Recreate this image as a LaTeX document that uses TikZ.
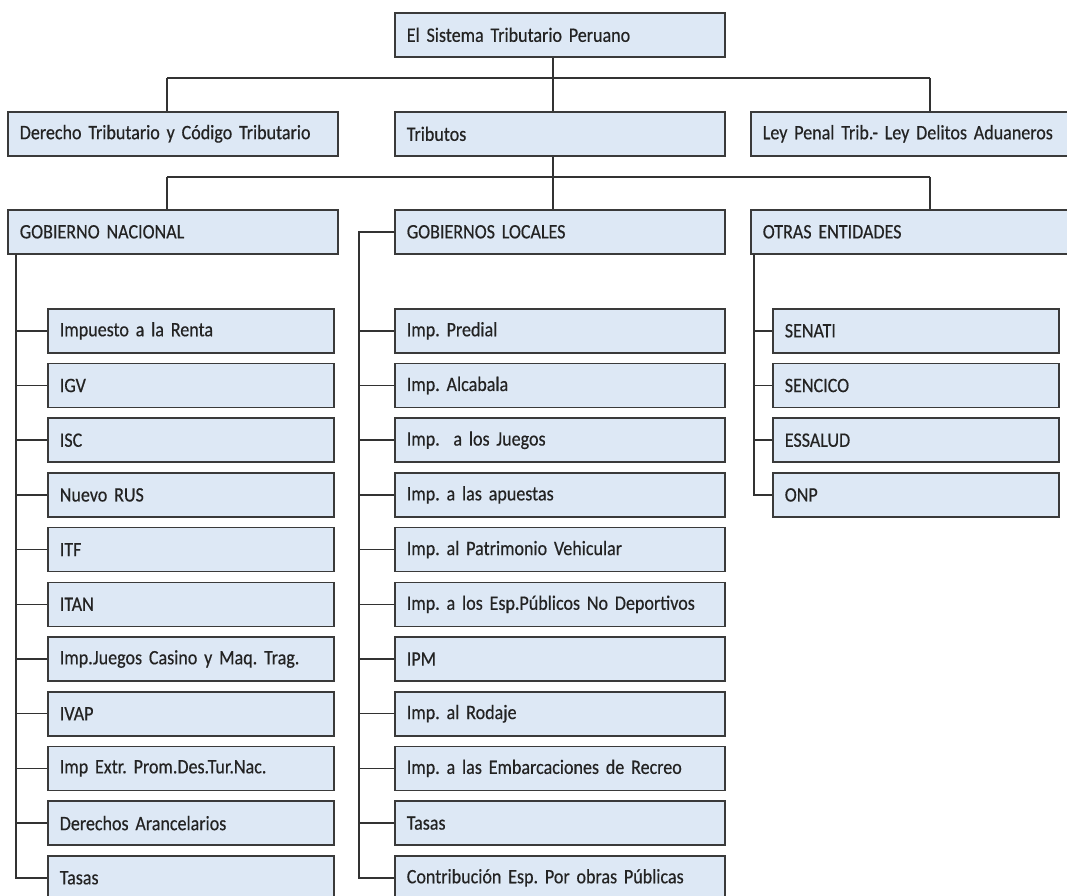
\documentclass[tikz,border=0pt]{standalone}
\usepackage{fontspec}
\setmainfont{Carlito}[FakeStretch=0.88,WordSpace=0.72,FakeBold=0.4]
\definecolor{boxfill}{RGB}{221,232,245}
\definecolor{boxline}{RGB}{58,58,58}
\definecolor{txt}{RGB}{35,35,35}
\definecolor{conn}{RGB}{50,50,50}
\tikzset{
  bx/.style={draw=boxline, fill=boxfill, line width=1.6pt, inner xsep=12pt, inner ysep=0pt,
    minimum height=44pt, anchor=north west, align=left, text=txt,
    font=\frenchspacing\fontsize{20.5}{22}\selectfont},
  wmid/.style={bx, text width=306pt},
  wright/.style={bx, text width=301pt},
  wsub/.style={bx, text width=262pt},
  link/.style={draw=conn, line width=1.5pt}
}
\begin{document}
\begin{tikzpicture}[x=1pt,y=-1pt]
\useasboundingbox (0,0) rectangle (1067,895);
\fill[white] (0,0) rectangle (1067,895);
\clip (0,0) rectangle (1067,895);

% row 1
\node[wmid] (top) at (394,12) {El Sistema Tributario Peruano};
% row 2
\node[wmid] (der) at (7,111) {Derecho Tributario y Código Tributario};
\node[wmid] (trib) at (394,111) {Tributos};
\node[wright] (ley) at (750,111) {Ley Penal Trib.- Ley Delitos Aduaneros};
% row 3
\node[wmid] (gn) at (7,209) {GOBIERNO NACIONAL};
\node[wmid] (gl) at (394,209) {GOBIERNOS LOCALES};
\node[wright] (oe) at (750,209) {OTRAS ENTIDADES};

% connector x positions
\coordinate (xs) at (553,0);
\coordinate (xl) at (167,0);
\coordinate (xr) at (930,0);
\coordinate (h1) at (0,78);
\coordinate (h2) at (0,177);

% top -> row 2
\draw[link] (top.south -| xs) -- (trib.north -| xs);
\draw[link] (h1 -| xl) -- (h1 -| xr);
\draw[link] (h1 -| xl) -- (der.north -| xl);
\draw[link] (h1 -| xr) -- (ley.north -| xr);
% Tributos -> row 3
\draw[link] (trib.south -| xs) -- (gl.north -| xs);
\draw[link] (h2 -| xl) -- (h2 -| xr);
\draw[link] (h2 -| xl) -- (gn.north -| xl);
\draw[link] (h2 -| xr) -- (oe.north -| xr);

% left column
\foreach \i/\t in {0/Impuesto a la Renta, 1/IGV, 2/ISC, 3/Nuevo RUS, 4/ITF, 5/ITAN,
  6/Imp.Juegos Casino y Maq. Trag., 7/IVAP, 8/Imp Extr. Prom.Des.Tur.Nac.,
  9/Derechos Arancelarios, 10/Tasas}{
  \node[wsub] (l\i) at (47,{308+\i*54.7}) {\t};
}
\coordinate (gnv) at (16,0);
\foreach \i in {0,...,10}{
  \draw[link] (gn.south -| gnv) |- (l\i.west);
}

% middle column
\foreach \i/\t in {0/Imp. Predial, 1/Imp. Alcabala, 2/Imp.\ \ a los Juegos, 3/Imp. a las apuestas,
  4/Imp. al Patrimonio Vehicular, 5/Imp. a los Esp.Públicos No Deportivos, 6/IPM,
  7/Imp. al Rodaje, 8/Imp. a las Embarcaciones de Recreo, 9/Tasas,
  10/Contribución Esp. Por obras Públicas}{
  \node[wsub, text width=306pt] (m\i) at (394,{308+\i*54.7}) {\t};
}
\coordinate (glv) at (359,0);
\foreach \i in {0,...,10}{
  \draw[link] (gl.west) -- (gl.west -| glv) |- (m\i.west);
}

% right column
\foreach \i/\t in {0/SENATI, 1/SENCICO, 2/ESSALUD, 3/ONP}{
  \node[wsub] (r\i) at (772,{308+\i*54.7}) {\t};
}
\coordinate (oev) at (754,0);
\foreach \i in {0,...,3}{
  \draw[link] (oe.south -| oev) |- (r\i.west);
}
\end{tikzpicture}
\end{document}
